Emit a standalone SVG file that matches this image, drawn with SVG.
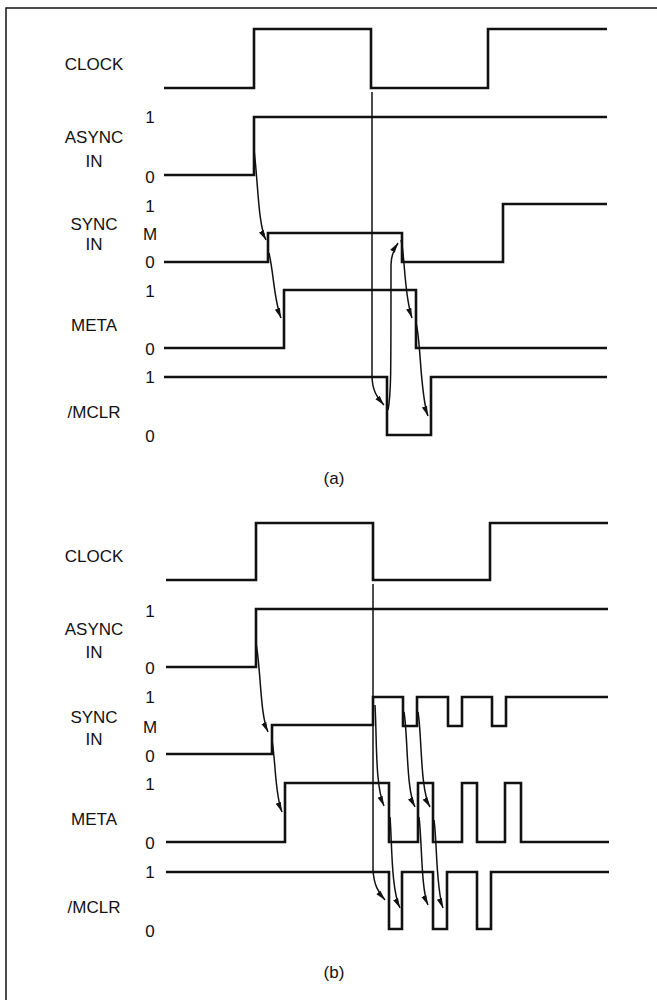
<svg xmlns="http://www.w3.org/2000/svg" width="657" height="1000" viewBox="0 0 657 1000">
<style>
.t{font-family:"Liberation Sans",Arial,sans-serif;font-size:17px;fill:#111;text-anchor:middle}
.s{fill:none;stroke:#111;stroke-width:2.6;stroke-linejoin:miter}
.a{fill:none;stroke:#111;stroke-width:1.5;marker-end:url(#ah)}
</style>
<defs>
<marker id="ah" markerWidth="11" markerHeight="7" refX="10" refY="3.5" orient="auto" markerUnits="userSpaceOnUse">
<path d="M0 0.8 L10 3.5 L0 6.2 Z" fill="#111"/>
</marker>
</defs>
<rect x="6" y="8" width="700" height="1100" fill="#fff" stroke="#111" stroke-width="1.5"/>

<g id="panel-a">
<g id="a-clock"><text class="t" x="94" y="70">CLOCK</text><path class="s" d="M164 88 H254 V29 H371 V88 H488 V29 H607"/></g>
<g id="a-async"><text class="t" x="150" y="123">1</text><text class="t" x="94" y="143">ASYNC</text><text class="t" x="94" y="167">IN</text><text class="t" x="150" y="183">0</text><path class="s" d="M164 175 H254 V117 H607"/></g>
<g id="a-sync"><text class="t" x="150" y="212">1</text><text class="t" x="94" y="230">SYNC</text><text class="t" x="150" y="240">M</text><text class="t" x="94" y="250">IN</text><text class="t" x="150" y="268">0</text><path class="s" d="M164 262 H268 V233 H402 V262 H503 V204 H607"/></g>
<g id="a-meta"><text class="t" x="150" y="297">1</text><text class="t" x="94" y="331">META</text><text class="t" x="150" y="355">0</text><path class="s" d="M164 348 H284 V290 H416 V348 H607"/></g>
<g id="a-mclr"><text class="t" x="150" y="383">1</text><text class="t" x="94" y="418">/MCLR</text><text class="t" x="150" y="442">0</text><path class="s" d="M164 377 H387 V435 H431 V377 H607"/></g>
<text class="t" x="334" y="484">(a)</text>
<g id="a-connectors">
<path class="a" d="M254 150 C258 180, 258 225, 266 240"/>
<path class="a" d="M269 253 C274 275, 274 300, 281 318"/>
<path class="a" d="M372 92 V375 C372 392, 378 398, 384 405"/>
<path class="a" d="M388 410 C391 395, 391 380, 391 265 C391 255, 394 249, 398 243"/>
<path class="a" d="M401 240 C405 255, 404 295, 412 318"/>
<path class="a" d="M416 323 C421 340, 420 395, 428 416"/>
</g>
</g>

<g id="panel-b">
<g id="b-clock"><text class="t" x="94" y="562">CLOCK</text><path class="s" d="M166 580 H256 V523 H373 V580 H490 V523 H608"/></g>
<g id="b-async"><text class="t" x="150" y="617">1</text><text class="t" x="94" y="635">ASYNC</text><text class="t" x="94" y="658">IN</text><text class="t" x="150" y="674">0</text><path class="s" d="M166 667 H256 V609 H608"/></g>
<g id="b-sync"><text class="t" x="150" y="703">1</text><text class="t" x="94" y="723">SYNC</text><text class="t" x="150" y="733">M</text><text class="t" x="94" y="745">IN</text><text class="t" x="150" y="762">0</text><path class="s" d="M166 754 H272 V725 H373 V697 H403 V726 H417 V697 H448 V726 H462 V697 H492 V726 H506 V697 H608"/></g>
<g id="b-meta"><text class="t" x="150" y="790">1</text><text class="t" x="94" y="825">META</text><text class="t" x="150" y="849">0</text><path class="s" d="M166 842 H285 V783 H389 V842 H418 V783 H433 V842 H462 V783 H477 V842 H505 V783 H521 V842 H609"/></g>
<g id="b-mclr"><text class="t" x="150" y="878">1</text><text class="t" x="94" y="913">/MCLR</text><text class="t" x="150" y="937">0</text><path class="s" d="M166 872 H389 V929 H402 V872 H433 V929 H447 V872 H477 V929 H491 V872 H609"/></g>
<text class="t" x="334" y="978">(b)</text>
<g id="b-connectors">
<path class="a" d="M256 643 C261 670, 260 715, 268 732"/>
<path class="a" d="M272 740 C276 765, 275 795, 282 812"/>
<path class="a" d="M373 584 V870 C374 885, 378 892, 385 900"/>
<path class="a" d="M375 705 C377 740, 375 785, 384 806"/>
<path class="a" d="M390 817 C392 840, 391 890, 400 908"/>
<path class="a" d="M404 712 C408 735, 406 790, 415 807"/>
<path class="a" d="M418 712 C422 735, 420 790, 430 807"/>
<path class="a" d="M419 817 C422 840, 421 890, 428 905"/>
<path class="a" d="M434 820 C437 840, 436 890, 443 908"/>
</g>
</g>
</svg>
